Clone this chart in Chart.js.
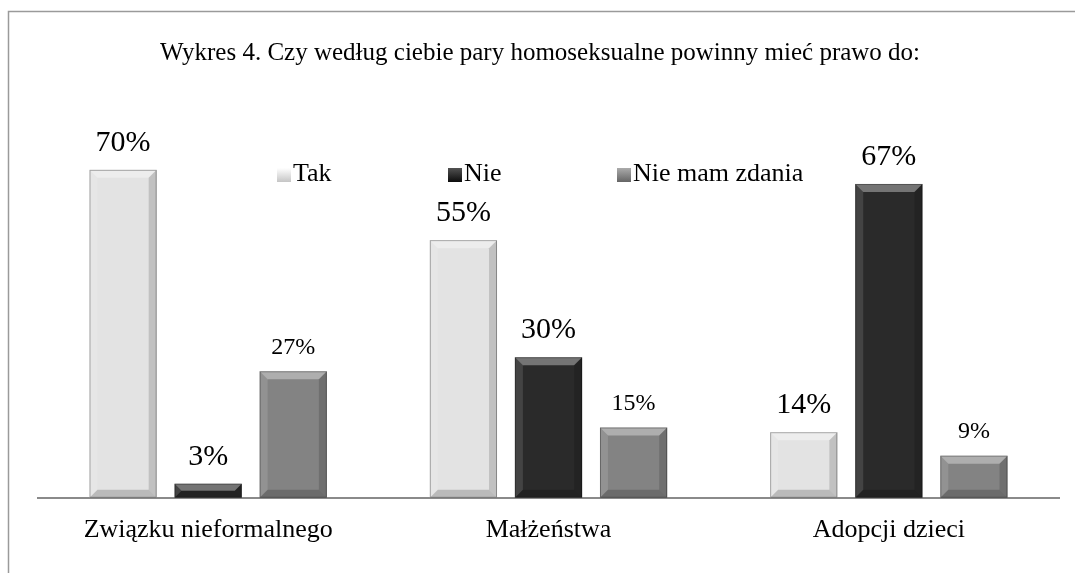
<!DOCTYPE html>
<html>
<head>
<meta charset="utf-8">
<script src="https://cdn.jsdelivr.net/npm/chart.js@4"></script>
<style>
    html, body { margin: 0; padding: 0; background: #fff; }
    #wrap { width: 1075px; height: 573px; }
</style>
</head>
<body>
<div id="wrap"><canvas id="chart" width="1075" height="573"></canvas></div>
<script>
const categories = ['Związku nieformalnego', 'Małżeństwa', 'Adopcji dzieci'];
const seriesNames = ['Tak', 'Nie', 'Nie mam zdania'];
const tak = [70, 55, 14];
const nie = [3, 30, 67];
const nieMamZdania = [27, 15, 9];
const titleText = 'Wykres 4. Czy według ciebie pary homoseksualne powinny mieć prawo do:';

const seriesColors = ['#e3e3e3', '#2a2a2a', '#838383'];
const labelSizes = [30, 30, 24];
const labelOffsets = [27, 27, 24];
const serif = "'Liberation Serif', 'Times New Roman', serif";

// frame, title and legend drawn by hand (the Excel look)
const decorPlugin = {
    id: 'decor',
    beforeDraw(chart) {
        const ctx = chart.ctx;
        ctx.save();
        ctx.strokeStyle = '#9a9a9a';
        ctx.lineWidth = 1.5;
        ctx.beginPath();
        ctx.moveTo(8.5, 573);
        ctx.lineTo(8.5, 11.5);
        ctx.lineTo(1075, 11.5);
        ctx.stroke();

        ctx.fillStyle = '#000';
        ctx.font = '25px ' + serif;
        ctx.textAlign = 'center';
        ctx.textBaseline = 'middle';
        ctx.fillText(titleText, 540, 53);

        const legendX = [277, 448, 617];
        ctx.font = '26px ' + serif;
        ctx.textAlign = 'left';
        chart.data.datasets.forEach((ds, i) => {
            const x = legendX[i], y = 168;
            const g = ctx.createLinearGradient(x, y, x, y + 14);
            g.addColorStop(0, shade(ds.backgroundColor, 40));
            g.addColorStop(1, shade(ds.backgroundColor, -30));
            ctx.fillStyle = g;
            ctx.fillRect(x, y, 14, 14);
            ctx.fillStyle = '#000';
            ctx.fillText(ds.label, x + 16, y + 6);
        });
        ctx.restore();
    },
    afterDatasetsDraw(chart) {
        const ctx = chart.ctx;
        ctx.save();
        chart.data.datasets.forEach((ds, i) => {
            const meta = chart.getDatasetMeta(i);
            meta.data.forEach((bar, j) => {
                const l = bar.x - bar.width / 2, r = bar.x + bar.width / 2;
                const t = bar.y, b = bar.base;
                const bv = Math.min(8, (b - t) / 2);
                // bevel faces
                poly(ctx, [[l, t], [r, t], [r - bv, t + bv], [l + bv, t + bv]], 'rgba(255,255,255,0.35)');
                poly(ctx, [[l, t], [l + bv, t + bv], [l + bv, b - bv], [l, b]], 'rgba(255,255,255,0.12)');
                poly(ctx, [[r, t], [r, b], [r - bv, b - bv], [r - bv, t + bv]], 'rgba(0,0,0,0.15)');
                poly(ctx, [[l, b], [l + bv, b - bv], [r - bv, b - bv], [r, b]], 'rgba(0,0,0,0.18)');
                ctx.strokeStyle = 'rgba(0,0,0,0.3)';
                ctx.lineWidth = 1;
                ctx.strokeRect(l + 0.5, t + 0.5, r - l - 1, b - t - 1);

                // value label
                ctx.fillStyle = '#000';
                ctx.font = labelSizes[i] + 'px ' + serif;
                ctx.textAlign = 'center';
                ctx.textBaseline = 'middle';
                ctx.fillText(ds.data[j] + '%', bar.x, t - labelOffsets[i]);
            });
        });
        ctx.restore();
    }
};

function poly(ctx, pts, color) {
    ctx.beginPath();
    ctx.moveTo(pts[0][0], pts[0][1]);
    for (let k = 1; k < pts.length; k++) ctx.lineTo(pts[k][0], pts[k][1]);
    ctx.closePath();
    ctx.fillStyle = color;
    ctx.fill();
}

function shade(hex, amt) {
    const n = parseInt(hex.slice(1), 16);
    const c = v => Math.max(0, Math.min(255, v + amt));
    return 'rgb(' + c(n >> 16) + ',' + c((n >> 8) & 255) + ',' + c(n & 255) + ')';
}

const ctx = document.getElementById('chart').getContext('2d');
new Chart(ctx, {
    type: 'bar',
    data: {
        labels: categories,
        datasets: [
            { label: seriesNames[0], data: tak, backgroundColor: seriesColors[0] },
            { label: seriesNames[1], data: nie, backgroundColor: seriesColors[1] },
            { label: seriesNames[2], data: nieMamZdania, backgroundColor: seriesColors[2] }
        ]
    },
    options: {
        responsive: false,
        animation: false,
        devicePixelRatio: 1,
        categoryPercentage: 0.75,
        barPercentage: 0.79,
        layout: { padding: { left: 38, right: 16, top: 123, bottom: 10 } },
        plugins: {
            legend: { display: false },
            title: { display: false },
            tooltip: { enabled: false }
        },
        scales: {
            x: {
                grid: { display: false, drawTicks: false },
                border: { display: true, color: '#8a8a8a', width: 2 },
                ticks: { color: '#000', font: { family: serif, size: 26 }, padding: 17 }
            },
            y: {
                display: false,
                min: 0,
                max: 80
            }
        }
    },
    plugins: [decorPlugin]
});
</script>
</body>
</html>
